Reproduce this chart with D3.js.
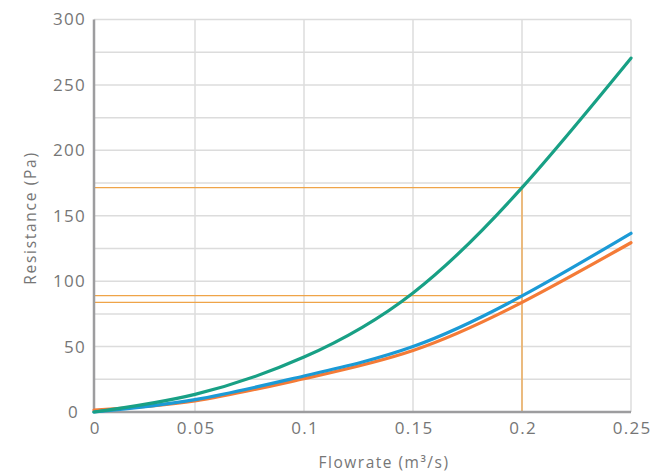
<!DOCTYPE html>
<html>
<head>
<meta charset="utf-8">
<script src="https://cdn.jsdelivr.net/npm/d3@7"></script>
<style>
  html, body { margin: 0; padding: 0; background: #fff; }
  svg text { font-family: "Open Sans", sans-serif; fill: #767676; }
</style>
</head>
<body>
<svg id="chart" width="654" height="475"></svg>
<script>
// ---- data ----
const flowrate = [0, 0.05, 0.1, 0.15, 0.2, 0.25];
const greenSeries  = [0, 13.5, 42, 91, 171.5, 270.5];
const blueSeries   = [0, 9.5, 27.5, 50, 88.7, 136.6];
const orangeSeries = [1.5, 8.5, 25.5, 47, 83.8, 129.4];
const refX = 0.2;
const refY = [171.5, 89, 83.8];
const xTicks = [0, 0.05, 0.1, 0.15, 0.2, 0.25];
const xTickLabels = ["0", "0.05", "0.1", "0.15", "0.2", "0.25"];
const yTicks = [0, 50, 100, 150, 200, 250, 300];
const yGrid = [0, 25, 50, 75, 100, 125, 150, 175, 200, 225, 250, 275, 300];

// ---- scales ----
const svg = d3.select("#chart");
const x = d3.scaleLinear().domain([0, 0.05, 0.25]).range([94, 195, 631]);
const y = d3.scaleLinear().domain([0, 300]).range([412, 19.5]);

// grid
const grid = svg.append("g");
grid.selectAll("line.h").data(yGrid).join("line")
  .attr("x1", x(0)).attr("x2", x(0.25))
  .attr("y1", d => y(d)).attr("y2", d => y(d))
  .attr("stroke", "#dcdcdc").attr("stroke-width", 1.5);
grid.selectAll("line.v").data(xTicks.slice(1)).join("line")
  .attr("x1", d => x(d)).attr("x2", d => x(d))
  .attr("y1", y(0)).attr("y2", y(300))
  .attr("stroke", "#dcdcdc").attr("stroke-width", 1.5);

// reference lines
const refColor = "#efa448";
svg.append("g").selectAll("line").data(refY).join("line")
  .attr("x1", x(0)).attr("x2", x(refX))
  .attr("y1", d => y(d)).attr("y2", d => y(d))
  .attr("stroke", refColor).attr("stroke-width", 1.3);
svg.append("line")
  .attr("x1", x(refX)).attr("x2", x(refX))
  .attr("y1", y(d3.max(refY))).attr("y2", y(0))
  .attr("stroke", refColor).attr("stroke-width", 1.3);

// axes
const xAxis = d3.axisBottom(x).tickValues(xTicks)
  .tickFormat((d, i) => xTickLabels[i]).tickSize(0).tickPadding(10);
const gx = svg.append("g").attr("transform", `translate(0,${y(0)})`).call(xAxis);
gx.select(".domain").remove();
gx.selectAll("text").style("font-size", "17px").style("letter-spacing", "1.3px")
  .attr("dx", "0.65px").attr("dy", "0.71em");

const yAxis = d3.axisLeft(y).tickValues(yTicks).tickSize(0).tickPadding(8);
const gy = svg.append("g").attr("transform", `translate(${x(0)},0)`).call(yAxis);
gy.select(".domain").remove();
gy.selectAll("text").style("font-size", "17px").style("letter-spacing", "1.3px")
  .attr("dx", d => d === 0 ? -7 : 0);

svg.append("line").attr("x1", x(0)).attr("x2", x(0.25))
  .attr("y1", y(0)).attr("y2", y(0)).attr("stroke", "#9d9d9f").attr("stroke-width", 2.5);
svg.append("line").attr("x1", x(0)).attr("x2", x(0))
  .attr("y1", y(0) + 1).attr("y2", y(300)).attr("stroke", "#9d9d9f").attr("stroke-width", 2.5);

// series
const line = d3.line().x((d, i) => x(flowrate[i])).y(d => y(d)).curve(d3.curveNatural);
const series = [
  { values: orangeSeries, color: "#f47b37" },
  { values: blueSeries, color: "#1b9ad6" },
  { values: greenSeries, color: "#18a085" }
];
svg.append("g").selectAll("path").data(series).join("path")
  .attr("d", d => line(d.values))
  .attr("fill", "none").attr("stroke", d => d.color).attr("stroke-width", 3.2)
  .attr("stroke-linecap", "round");

// labels
svg.append("text").attr("x", 384).attr("y", 467.5).attr("text-anchor", "middle")
  .style("font-size", "15.5px").style("letter-spacing", "1.5px").text("Flowrate (m³/s)");
svg.append("text").attr("transform", "translate(36,218) rotate(-90)")
  .attr("text-anchor", "middle").style("font-size", "15.5px").style("letter-spacing", "1.7px")
  .text("Resistance (Pa)");
</script>
</body>
</html>
